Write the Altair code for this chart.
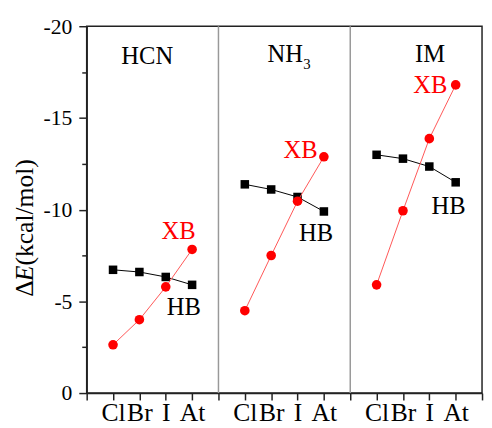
import altair as alt
import pandas as pd

# ---- data ----
halogens = ["Cl", "Br", "I", "At"]
panels = ["HCN", "NH3", "IM"]
xb_hcn = [-2.63, -4.00, -5.79, -7.83]
hb_hcn = [-6.72, -6.60, -6.33, -5.90]
xb_nh3 = [-4.49, -7.50, -10.46, -12.88]
hb_nh3 = [-11.38, -11.10, -10.69, -9.90]
xb_im = [-5.90, -9.94, -13.87, -16.80]
hb_im = [-12.99, -12.78, -12.35, -11.49]

y_ticks = [0, -2.5, -5, -7.5, -10, -12.5, -15, -17.5, -20]
x_ticks = list(range(16))
dividers = [5, 10]

# annotation texts (data coordinates)
ann_text = ["HCN", "NH", "3", "IM", "XB", "HB", "XB", "HB", "XB", "HB"]
ann_x = [2.30, 7.53, 8.36, 13.03, 3.49, 3.69, 8.12, 8.70, 13.04, 13.73]
ann_y = [-18.39, -18.50, -17.95, -18.46, -8.81, -4.66, -13.24, -8.74, -16.78, -10.19]
ann_color = ["black", "black", "black", "black", "red", "black", "red", "black", "red", "black"]
ann_size = [25, 25, 15, 25, 25, 25, 25, 25, 25, 25]

# y-axis title pieces
yt_text = ["\u0394", "E", "(kcal/mol)"]
yt_style = ["normal", "italic", "normal"]
yt_x = [-2.35, -2.35, -2.35]
yt_y = [-5.25, -6.10, -6.95]

FONT = "Liberation Serif"

rows = []
for p, (xb, hb) in enumerate([(xb_hcn, hb_hcn), (xb_nh3, hb_nh3), (xb_im, hb_im)]):
    for i, h in enumerate(halogens):
        rows.append({"panel": panels[p], "hal": h, "x": 5 * p + i + 1, "type": "XB", "E": xb[i]})
        rows.append({"panel": panels[p], "hal": h, "x": 5 * p + i + 1, "type": "HB", "E": hb[i]})
df = pd.DataFrame(rows)

xscale = alt.Scale(domain=[0, 15], nice=False, zero=False)
yscale = alt.Scale(domain=[0, -20], nice=False, zero=False)

xaxis = alt.Axis(
    values=x_ticks,
    labelExpr="['','Cl','Br','I','At'][datum.value % 5]",
    title=None, grid=False, tickSize=7, labelPadding=0,
    labelFont=FONT, labelFontSize=26, labelColor="black",
    domainColor="#222", domainWidth=1.5, tickColor="#222", tickWidth=1.5,
    labelOverlap=False, labelFlush=False, labelBound=False,
)
yaxis = alt.Axis(
    values=y_ticks,
    labelExpr="datum.value % 5 == 0 ? (datum.value == 0 ? '0' : '-' + abs(datum.value)) : ''",
    title=None, grid=False,
    tickSize={"condition": {"test": "datum.value % 5 == 0", "value": 8}, "value": 5},
    labelPadding=7,
    labelFont=FONT, labelFontSize=22, labelColor="black",
    domainColor="#222", domainWidth=1.5, tickColor="#222", tickWidth=1.5,
    labelOverlap=False,
)

X = alt.X("x:Q", scale=xscale, axis=xaxis)

div_df = pd.DataFrame({"x": dividers})
div = alt.Chart(div_df).mark_rule(color="#999999", strokeWidth=1.5).encode(x=X)

hb_df = df[df["type"] == "HB"]
xb_df = df[df["type"] == "XB"]

YE = alt.Y("E:Q", scale=yscale, axis=yaxis)

hb_line = alt.Chart(hb_df).mark_line(color="black", strokeWidth=1).encode(
    x=X, y=YE, detail="panel:N",
)
hb_pts = alt.Chart(hb_df).mark_point(shape="square", filled=True, color="black", size=75, opacity=1).encode(
    x=X, y=YE,
)
xb_line = alt.Chart(xb_df).mark_line(color="#ff5555", strokeWidth=1).encode(
    x=X, y=YE, detail="panel:N",
)
xb_pts = alt.Chart(xb_df).mark_point(shape="circle", filled=True, color="#ff0000", size=95, opacity=1).encode(
    x=X, y=YE,
)

YA = alt.Y("y:Q", scale=yscale, axis=yaxis)

ann_df = pd.DataFrame({"t": ann_text, "x": ann_x, "y": ann_y, "c": ann_color, "s": ann_size})
ann = alt.Chart(ann_df).mark_text(font=FONT, align="center", baseline="middle").encode(
    x=X, y=YA,
    text="t:N",
    color=alt.Color("c:N", scale=None),
    size=alt.Size("s:Q", scale=None),
)

yt_df = pd.DataFrame({"t": yt_text, "x": yt_x, "y": yt_y, "st": yt_style})
yt_parts = []
for i in range(len(yt_text)):
    yt_parts.append(
        alt.Chart(yt_df.iloc[[i]]).mark_text(
            font=FONT, fontSize=26, angle=270, align="left", baseline="middle",
            fontStyle=yt_style[i], color="black",
        ).encode(x=X, y=YA, text="t:N")
    )

chart = alt.layer(div, hb_line, hb_pts, xb_line, xb_pts, ann, *yt_parts).properties(
    width=402,
    height=373,
    autosize=alt.AutoSizeParams(type="none"),
    padding={"left": 80, "top": 15, "right": 2, "bottom": 32},
    background="white",
).configure_view(stroke="#222", strokeWidth=1.5).configure_axis(
    labelOverlap=False, labelFont=FONT
).configure_text(font=FONT)

chart.save("out.html", embed_options={"renderer": "svg", "actions": False})
